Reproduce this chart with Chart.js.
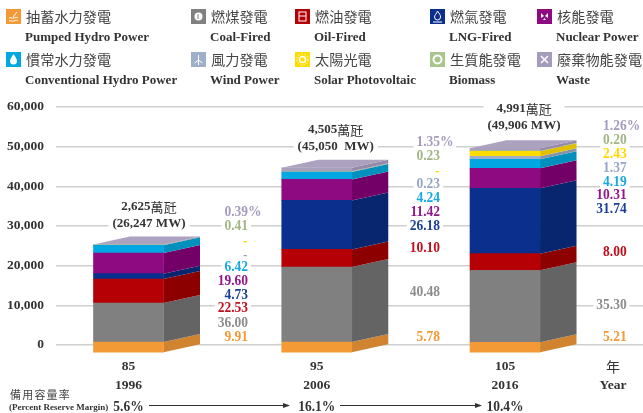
<!DOCTYPE html>
<html>
<head>
<meta charset="utf-8">
<script src="https://cdn.jsdelivr.net/npm/chart.js@4/dist/chart.umd.min.js"></script>
<style>
html, body { margin: 0; padding: 0; background: #fff; }
#wrap { position: relative; width: 643px; height: 413px; overflow: hidden; }
canvas { position: absolute; left: 0; top: 0; }
.lg { position: absolute; }
.lg svg { position: absolute; left: 0; top: 0; width: 15px; height: 15px; }
.lg .zh { position: absolute; left: 20px; top: -2px; white-space: nowrap; font: 14.2px/19px "Noto Sans CJK TC", sans-serif; color: #444; }
.lg .en { position: absolute; left: 19px; top: 18px; white-space: nowrap; font: bold 13px/19px "Liberation Serif", serif; color: #333; }
</style>
</head>
<body>
<div id="wrap">
<canvas id="capacityChart" width="643" height="413"></canvas>
<div id="legend"></div>
</div>
<script>
// Datos
const rocYears = [85, 95, 105];
const adYears = ['1996', '2006', '2016'];
const reserveMargin = ['5.6%', '16.1%', '10.4%'];
const totalsWan = ['2,625', '4,505', '4,991'];
const totalsMw = ['(26,247 MW)', '(45,050  MW)', '(49,906 MW)'];
const yTicks = [0, 10000, 20000, 30000, 40000, 50000, 60000];

// MW por fuente (altura de cada tramo en la figura)
const pumpedHydro = [2770, 2770, 2700];
const coalFired = [9830, 18900, 18150];
const oilFired = [6050, 4450, 4200];
const lngFired = [1345, 12350, 16460];
const nuclear = [5210, 5290, 5040];
const conventionalHydro = [1930, 1850, 2270];
const windPower = [0, 100, 760];
const solarPv = [0, 0, 1260];
const biomass = [110, 120, 100];
const waste = [100, 880, 660];

// Porcentajes impresos, de arriba abajo
const pct1996 = ['0.39%', '0.41', '-', '-', '6.42', '19.60', '4.73', '22.53', '36.00', '9.91'];
const pct2006 = ['1.35%', '0.23', '-', '0.23', '4.24', '11.42', '26.18', '10.10', '40.48', '5.78'];
const pct2016 = ['1.26%', '0.20', '2.43', '1.37', '4.19', '10.31', '31.74', '8.00', '35.30', '5.21'];

// Colores: cara frontal y cara lateral
const frontColors = ['#F39A37', '#808080', '#B50005', '#0A2F8C', '#8E0A80', '#00A7E3', '#9FAFC9', '#FFDD00', '#A9C48C', '#AAA0BC'];
const sideColors = ['#D08430', '#646464', '#8C0000', '#08266F', '#730066', '#0090BE', '#8493AC', '#E0C000', '#8FA876', '#958BA8'];
const pctColors = ['#A59BBD', '#A3B585', '#FFD800', '#97A6C6', '#17A9E0', '#93168C', '#1B3F94', '#C20E1A', '#8C8C8C', '#F39A37'];
const topColor = '#ACA1BE';

const serifFont = '"Liberation Serif", serif';
const depthX = 36.5;
const depthY = 8;
const narrow = 0.87;

const seriesNames = ['Pumped Hydro Power', 'Coal-Fired', 'Oil-Fired', 'LNG-Fired', 'Nuclear Power', 'Conventional Hydro Power', 'Wind Power', 'Solar Photovoltaic', 'Biomass', 'Waste'];
const seriesValues = [pumpedHydro, coalFired, oilFired, lngFired, nuclear, conventionalHydro, windPower, solarPv, biomass, waste];

// Ubicacion de cada columna de porcentajes
const pctRight = [248, 440, 626.7];
const pctRows = [
    [211.7, 225.5, 241, 255, 267, 280.5, 295, 308, 323, 337],
    [141.7, 155.7, 171, 183.7, 197.7, 211.7, 226, 247.7, 292, 337],
    [125.7, 140, 154, 168, 182, 195, 209, 252, 305, 337]
];
const pctColumns = [pct1996, pct2006, pct2016];
const totalSpots = [[149, 206.7], [335.7, 130], [524, 109]];

// Texto estrecho, como el de la figura original
function narrowText(ctx, txt, x, y) {
    ctx.save();
    ctx.translate(x, y);
    ctx.scale(narrow, 1);
    ctx.fillText(txt, 0, 0);
    ctx.restore();
}

// Caras laterales y superior de las barras
const boxFaces = {
    id: 'boxFaces',
    beforeDatasetsDraw(chart) {
        const ctx = chart.ctx;
        const quad = (a, b, c, d, color) => {
            ctx.fillStyle = color;
            ctx.beginPath();
            ctx.moveTo(a[0], a[1]);
            ctx.lineTo(b[0], b[1]);
            ctx.lineTo(c[0], c[1]);
            ctx.lineTo(d[0], d[1]);
            ctx.closePath();
            ctx.fill();
        };
        chart.data.datasets.forEach((ds, i) => {
            chart.getDatasetMeta(i).data.forEach((bar) => {
                const p = bar.getProps(['x', 'y', 'base', 'width'], true);
                if (Math.abs(p.base - p.y) < 0.01) return;
                const right = p.x + p.width / 2;
                quad([right - depthX, p.y + depthY], [right, p.y], [right, p.base], [right - depthX, p.base + depthY], sideColors[i]);
            });
        });
        const lastMeta = chart.getDatasetMeta(chart.data.datasets.length - 1);
        lastMeta.data.forEach((bar) => {
            const p = bar.getProps(['x', 'y', 'width'], true);
            const left = p.x - p.width / 2;
            const right = p.x + p.width / 2;
            quad([left - depthX, p.y + depthY], [left, p.y], [right, p.y], [right - depthX, p.y + depthY], topColor);
        });
        // La cara frontal se dibuja desplazada hacia delante
        ctx.save();
        ctx.translate(-depthX, depthY);
    },
    afterDatasetsDraw(chart) {
        chart.ctx.restore();
    }
};

// Textos encima de la figura
const annotations = {
    id: 'annotations',
    afterDraw(chart) {
        const ctx = chart.ctx;
        ctx.save();
        ctx.textBaseline = 'middle';

        // Fondo blanco que corta las lineas de la reticula
        const pctFont = 'bold 15.5px ' + serifFont;
        const totalFont = 'bold 13px ' + serifFont;
        ctx.fillStyle = '#fff';
        ctx.font = pctFont;
        pctColumns.forEach((col, c) => {
            col.forEach((txt, r) => {
                if (txt === '-') return;
                const w = ctx.measureText(txt.replace('%', '')).width * narrow;
                const extra = txt.indexOf('%') >= 0 ? 13 : 0;
                ctx.fillRect(pctRight[c] - w - 3, pctRows[c][r] - 7, w + extra + 6, 14);
            });
        });
        ctx.font = totalFont;
        totalSpots.forEach((spot, i) => {
            const w = ctx.measureText(totalsMw[i]).width;
            ctx.fillRect(spot[0] - w / 2 - 4, spot[1] - 8, w + 8, 32);
        });

        // Porcentajes
        ctx.textAlign = 'left';
        pctColumns.forEach((col, c) => {
            col.forEach((txt, r) => {
                ctx.font = pctFont;
                ctx.fillStyle = pctColors[r];
                const w = ctx.measureText(txt.replace('%', '')).width * narrow;
                narrowText(ctx, txt, txt === '-' ? pctRight[c] - 5 : pctRight[c] - w, pctRows[c][r]);
            });
        });

        // Totales
        totalSpots.forEach((spot, i) => {
            ctx.fillStyle = '#333';
            ctx.font = totalFont;
            const numW = ctx.measureText(totalsWan[i]).width;
            ctx.font = '13px "Noto Sans CJK TC", sans-serif';
            const unitW = ctx.measureText('萬瓩').width;
            const start = spot[0] - (numW + unitW) / 2;
            ctx.textAlign = 'left';
            ctx.font = totalFont;
            ctx.fillText(totalsWan[i], start, spot[1]);
            ctx.font = '13px "Noto Sans CJK TC", sans-serif';
            ctx.fillText('萬瓩', start + numW, spot[1]);
            ctx.font = totalFont;
            ctx.textAlign = 'center';
            ctx.fillText(totalsMw[i], spot[0], spot[1] + 16.5);
            ctx.textAlign = 'left';
        });

        // Unidad del eje x
        ctx.textAlign = 'center';
        ctx.fillStyle = '#333';
        ctx.font = '14px "Noto Sans CJK TC", sans-serif';
        ctx.fillText('年', 613, 366.7);
        ctx.font = 'bold 13.5px ' + serifFont;
        ctx.fillText('Year', 613, 385.5);

        // Margen de reserva
        ctx.textAlign = 'left';
        ctx.fillStyle = '#444';
        ctx.font = '11px "Noto Sans CJK TC", sans-serif';
        ctx.letterSpacing = '1.2px';
        ctx.fillText('備用容量率', 10, 394.5);
        ctx.letterSpacing = '0px';
        ctx.fillStyle = '#333';
        ctx.font = 'bold 9px ' + serifFont;
        ctx.fillText('(Percent Reserve Margin)', 9, 408);

        ctx.font = 'bold 15.5px ' + serifFont;
        ctx.textAlign = 'center';
        const marginX = chart.scales.x;
        rocYears.forEach((yr, i) => {
            const x = marginX.getPixelForValue(yr) - depthX;
            narrowText(ctx, reserveMargin[i], x, 406.5);
        });
        const arrow = (x0, x1) => {
            ctx.strokeStyle = '#333';
            ctx.lineWidth = 1;
            ctx.beginPath();
            ctx.moveTo(x0, 405.5);
            ctx.lineTo(x1, 405.5);
            ctx.stroke();
            ctx.fillStyle = '#333';
            ctx.beginPath();
            ctx.moveTo(x1 + 1, 405.5);
            ctx.lineTo(x1 - 6, 403);
            ctx.lineTo(x1 - 6, 408);
            ctx.closePath();
            ctx.fill();
        };
        arrow(149, 289);
        arrow(340, 481);
        ctx.restore();
    }
};

new Chart(document.getElementById('capacityChart'), {
    type: 'bar',
    data: {
        labels: rocYears,
        datasets: seriesValues.map((vals, i) => ({
            label: seriesNames[i],
            data: vals,
            backgroundColor: frontColors[i],
            borderWidth: 0,
            barThickness: 70,
            clip: false
        }))
    },
    options: {
        responsive: false,
        animation: false,
        layout: { padding: { top: 107, left: 0, right: 0, bottom: 0 } },
        plugins: { legend: { display: false }, tooltip: { enabled: false } },
        scales: {
            x: {
                type: 'linear',
                offset: false,
                stacked: true,
                min: 79.21,
                max: 110.39,
                afterBuildTicks(axis) {
                    axis.ticks = rocYears.map((v) => ({ value: v }));
                },
                afterFit(axis) {
                    axis.height = 68;
                },
                grid: { display: false, drawTicks: false, offset: false },
                border: { display: false },
                ticks: {
                    autoSkip: false,
                    maxRotation: 0,
                    labelOffset: -depthX,
                    padding: 12,
                    color: '#333',
                    font: { family: serifFont, size: 13.5, weight: 'bold', lineHeight: 1.43 },
                    callback(value, index) {
                        return [String(value), adYears[index]];
                    }
                }
            },
            y: {
                stacked: true,
                min: 0,
                max: 60000,
                afterBuildTicks(axis) {
                    axis.ticks = yTicks.map((v) => ({ value: v }));
                },
                afterFit(axis) {
                    axis.width = 56;
                },
                grid: { color: '#cfcfcf', lineWidth: 1.5, drawTicks: false },
                border: { display: false },
                ticks: {
                    padding: 12,
                    color: '#333',
                    font: { family: serifFont, size: 13.5, weight: 'bold' },
                    callback(value) {
                        return value.toLocaleString('en-US');
                    }
                }
            }
        }
    },
    plugins: [boxFaces, annotations]
});

// Leyenda con iconos
const legendItems = [
    { zh: '抽蓄水力發電', en: seriesNames[0], x: 6, y: 9, bg: '#F39A37', icon: '<path d="M3 9c2-1 3 1 5 0s3-1 4 0M3 12c2-1 3 1 5 0s3-1 4 0M7 8l4-5" stroke="#fff" fill="none"/>' },
    { zh: '燃煤發電', en: seriesNames[1], x: 191, y: 9, bg: '#808080', icon: '<circle cx="7.5" cy="7.5" r="4" fill="#fff"/><path d="M7 5v5" stroke="#808080"/>' },
    { zh: '燃油發電', en: seriesNames[2], x: 295, y: 9, bg: '#B50005', icon: '<rect x="4" y="3" width="7" height="9" fill="none" stroke="#fff"/><path d="M4 7h7" stroke="#fff"/>' },
    { zh: '燃氣發電', en: seriesNames[3], x: 430, y: 9, bg: '#0A2F8C', icon: '<path d="M7.5 2c2 3 3 4 3 6a3 3 0 0 1-6 0c0-2 2-3 3-6zM3 13h9" stroke="#fff" fill="none"/>' },
    { zh: '核能發電', en: seriesNames[4], x: 537, y: 9, bg: '#8E0A80', icon: '<path d="M4 4l3 3-3 2zM11 4l-3 3 3 2zM6 11l1.500-2 1.500 2z" fill="#fff"/>' },
    { zh: '慣常水力發電', en: seriesNames[5], x: 6, y: 52, bg: '#00A7E3', icon: '<path d="M7.500 2c2 3 3.500 5 3.500 7a3.500 3.500 0 0 1-7 0c0-2 1.500-4 3.500-7z" fill="#fff"/>' },
    { zh: '風力發電', en: seriesNames[6], x: 191, y: 52, bg: '#9FAFC9', icon: '<path d="M7.500 8V3M7.500 8l-4 3M7.500 8l4 3M7.500 8v5" stroke="#fff" fill="none"/>' },
    { zh: '太陽光電', en: seriesNames[7], x: 295, y: 52, bg: '#FFDD00', icon: '<circle cx="7.500" cy="7.500" r="3" fill="none" stroke="#fff" stroke-width="1.500"/><circle cx="7.500" cy="7.500" r="5.500" fill="none" stroke="#fff" stroke-dasharray="1.500 1.500"/>' },
    { zh: '生質能發電', en: seriesNames[8], x: 430, y: 52, bg: '#A9C48C', icon: '<circle cx="7.500" cy="7.500" r="4" fill="none" stroke="#fff" stroke-width="2"/>' },
    { zh: '廢棄物能發電', en: seriesNames[9], x: 537, y: 52, bg: '#A59BBD', icon: '<path d="M4 4l7 7M11 4l-7 7" stroke="#fff" stroke-width="1.500"/>' }
];
const legendBox = document.getElementById('legend');
legendItems.forEach((item) => {
    const el = document.createElement('div');
    el.className = 'lg';
    el.style.left = item.x + 'px';
    el.style.top = item.y + 'px';
    el.innerHTML = `
        <svg viewBox="0 0 15 15"><rect width="15" height="15" fill="${item.bg}"/>${item.icon}</svg>
        <span class="zh">${item.zh}</span>
        <span class="en">${item.en}</span>
    `;
    legendBox.appendChild(el);
});
</script>
</body>
</html>
